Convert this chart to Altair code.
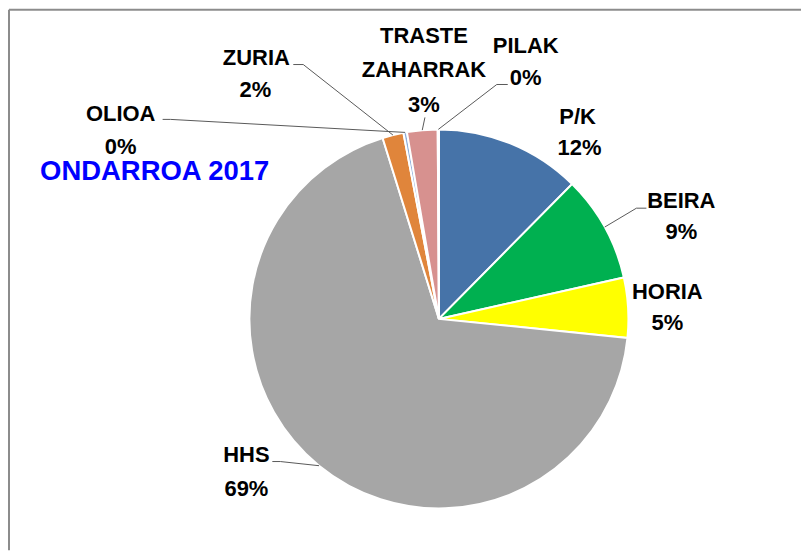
import math
import altair as alt
import pandas as pd

# ---- data ----
names = ["P/K", "BEIRA", "HORIA", "HHS", "ZURIA", "OLIOA", "TRASTE ZAHARRAK", "PILAK"]
values = [12.4, 9.1, 5.1, 68.6, 1.8, 0.3, 2.6, 0.1]
pct_labels = ["12%", "9%", "5%", "69%", "2%", "0%", "3%", "0%"]
label_lines = [["P/K"], ["BEIRA"], ["HORIA"], ["HHS"], ["ZURIA"], ["OLIOA"],
               ["TRASTE", "ZAHARRAK"], ["PILAK"]]
title_text = "ONDARROA 2017"

# ---- styles / layout ----
colors = ["#4673A8", "#00B050", "#FFFF00", "#A6A6A6", "#E0853B", "#8EAEDA", "#D7918F", "#C0504D"]
W, H = 794, 542
OFF = 8  # page margin
CX, CY, R = 439 - OFF, 318 - OFF, 190
FONT = "Liberation Sans"
FS = 22
CAP = 0.716 * FS / 2
TFS = 27.5

# cap-centre of each label line (page coords)
label_pos = {
    "P/K": [(578, 114.5), (580, 146)],
    "BEIRA": [(682, 198.5), (682, 230)],
    "HORIA": [(668, 290), (668, 321.5)],
    "HHS": [(246, 454), (246, 488)],
    "ZURIA": [(256, 55.5), (255, 87.5)],
    "OLIOA": [(120, 112), (120, 144.5)],
    "TRASTE ZAHARRAK": [(424, 33.5), (424, 67.5), (424, 102.5)],
    "PILAK": [(526, 43.5), (526, 76)],
}
# leader start / elbow points (page coords), end is on the slice edge
leader_start = {
    "ZURIA": [(293, 63), (303, 63)],
    "OLIOA": [(162, 118), (170, 118)],
    "TRASTE ZAHARRAK": [(425, 116)],
    "PILAK": [(508, 83), (497, 83)],
    "BEIRA": [(647, 207), (637, 207)],
    "HHS": [(272, 461), (280, 461)],
}

pie_df = pd.DataFrame({"name": names, "value": values, "idx": list(range(len(names)))})

# texts
trows = []
for n, lines, p in zip(names, label_lines, pct_labels):
    pos = label_pos[n]
    for txt, (x, y) in zip(lines + [p], pos):
        trows.append({"t": txt, "x": x - OFF, "y": y - OFF + CAP})
text_df = pd.DataFrame(trows)

# leaders
total = sum(values)
cum = 0
lrows = []
for n, v in zip(names, values):
    mid = (cum + v / 2) / total * 2 * math.pi
    cum += v
    if n not in leader_start:
        continue
    pts = [(x - OFF, y - OFF) for x, y in leader_start[n]]
    pts.append((CX + R * math.sin(mid), CY - R * math.cos(mid)))
    for i, (x, y) in enumerate(pts):
        lrows.append({"name": n, "o": i, "x": x, "y": y})
lead_df = pd.DataFrame(lrows)

xs = alt.Scale(domain=[0, W], range=[0, W])
ys = alt.Scale(domain=[0, H], range=[0, H])

pie = alt.Chart(pie_df).mark_arc(outerRadius=R, stroke="white", strokeWidth=2).encode(
    theta=alt.Theta("value:Q", stack=True),
    order=alt.Order("idx:Q"),
    color=alt.Color("name:N", scale=alt.Scale(domain=names, range=colors), legend=None),
    x=alt.value(CX),
    y=alt.value(CY),
)

leaders = alt.Chart(lead_df).mark_line(color="#595959", strokeWidth=1).encode(
    x=alt.X("x:Q", scale=xs, axis=None),
    y=alt.Y("y:Q", scale=ys, axis=None),
    detail="name:N",
    order="o:Q",
)

labels = alt.Chart(text_df).mark_text(
    font=FONT, fontSize=FS, fontWeight="bold", color="#000000", align="center", baseline="alphabetic"
).encode(
    x=alt.X("x:Q", scale=xs, axis=None),
    y=alt.Y("y:Q", scale=ys, axis=None),
    text="t:N",
)

title = alt.Chart(pd.DataFrame({"t": [title_text]})).mark_text(
    font=FONT, fontSize=TFS, fontWeight="bold", color="#0000FF", align="center", baseline="alphabetic"
).encode(
    x=alt.value(154 - OFF),
    y=alt.value(169 - OFF + 0.716 * TFS / 2),
    text="t:N",
)

border = alt.Chart(pd.DataFrame({"a": [0]})).mark_rule(color="#8C8C8C", strokeWidth=2).encode(
    x=alt.value(0), x2=alt.value(W), y=alt.value(0)
) + alt.Chart(pd.DataFrame({"a": [0]})).mark_rule(color="#8C8C8C", strokeWidth=2).encode(
    x=alt.value(0), y=alt.value(0), y2=alt.value(H)
)

chart = alt.layer(pie, leaders, labels, title, border).properties(
    width=W, height=H, padding=0, background="white"
).configure_view(stroke=None)

chart.save("out.html", embed_options={"renderer": "svg", "actions": False})
